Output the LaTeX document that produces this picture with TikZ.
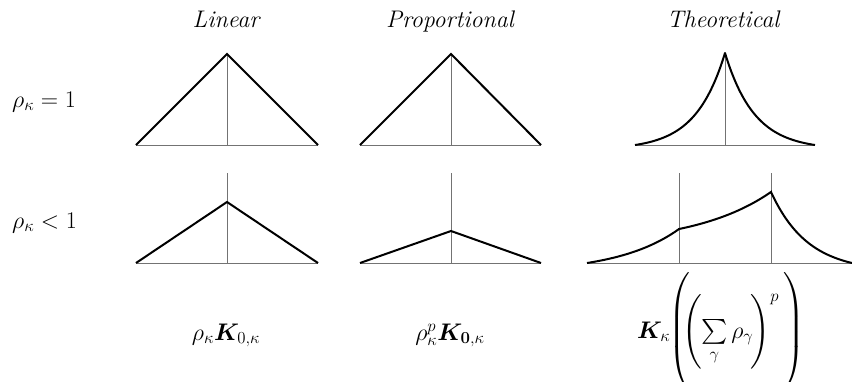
\documentclass[tikz,border=0pt]{standalone}
\usepackage{fix-cm}
\usepackage{amsmath}
\usepackage{bm}
\begin{document}
\begin{tikzpicture}[x=1pt,y=-1pt,
  lbl/.style={font=\fontsize{24}{28}\selectfont, inner sep=0pt, anchor=base},
  head/.style={lbl},
  thinln/.style={draw=black!55, line width=0.9pt},
  thickln/.style={draw=black, line width=2pt, line join=miter},
]
\useasboundingbox (0,0) rectangle (852,381);

% column titles
\node[head] (tlin) at (226,27) {\itshape Linear};
\node[head] (tpro) at (450,27) {\itshape Proportional};
\node[head] (tthe) at (723,27) {\itshape Theoretical};

% row labels
\node[lbl, anchor=base west] (r1) at (12,107) {$\rho_\kappa = 1$};
\node[lbl, anchor=base west] (r2) at (12,228) {$\rho_\kappa < 1$};

% ---------- top row ----------
% linear
\draw[thinln] (136,145) -- (318,145);
\draw[thinln] (227,54) -- (227,145);
\draw[thickln] (136,145) -- (227,54) -- (318,145);
% proportional
\draw[thinln] (360,145) -- (541,145);
\draw[thinln] (451,54) -- (451,145);
\draw[thickln] (360,145) -- (451,54) -- (541,145);
% theoretical
\draw[thinln] (635,145) -- (815,145);
\draw[thinln] (725,54) -- (725,145);
\draw[thickln, line join=round]
  plot[domain=90:0, samples=60, smooth] ({725-\x},{145-96.53*(exp(-0.034*\x)-0.0469)})
  -- plot[domain=0:90, samples=60, smooth] ({725+\x},{145-96.53*(exp(-0.034*\x)-0.0469)});

% ---------- bottom row ----------
% linear
\draw[thinln] (136,263) -- (318,263);
\draw[thinln] (227,173) -- (227,263);
\draw[thickln] (136,263) -- (227,202) -- (318,263);
% proportional
\draw[thinln] (360,263) -- (541,263);
\draw[thinln] (451,173) -- (451,263);
\draw[thickln] (360,263) -- (451,231) -- (541,263);
% theoretical
\draw[thinln] (587,263) -- (852,263);
\draw[thinln] (679,173) -- (679,263);
\draw[thinln] (771,173) -- (771,263);
\draw[thickln]
  plot[domain=0:92, samples=50, smooth] ({587+\x},{263-9.765*(exp(0.016304*\x)-1)})
  -- plot[domain=0:92, samples=50, smooth] ({679+\x},{229-15.948*(exp(0.013043*\x)-1)})
  -- plot[domain=0:81, samples=50, smooth] ({771+\x},{263-79.85*(exp(-0.02716*\x)-0.1108)});

% ---------- formulas ----------
\node[lbl] (f1) at (226,340) {$\rho_\kappa\bm{K}_{0,\kappa}$};
\node[lbl] (f2) at (450,340) {$\rho_\kappa^{p}\bm{K}_{\mathbf{0},\kappa}$};
\node[lbl] (f3) at (721,338) {$\bm{K}_\kappa\mkern-4mu\left(\rule[-50pt]{0pt}{112pt}\mkern-9mu\left(\rule[-28pt]{0pt}{68pt}\mkern-4mu\sum\limits_{\gamma}\rho_\gamma\mkern-2mu\right)^{p}\mkern3mu\right)$};
\end{tikzpicture}
\end{document}
